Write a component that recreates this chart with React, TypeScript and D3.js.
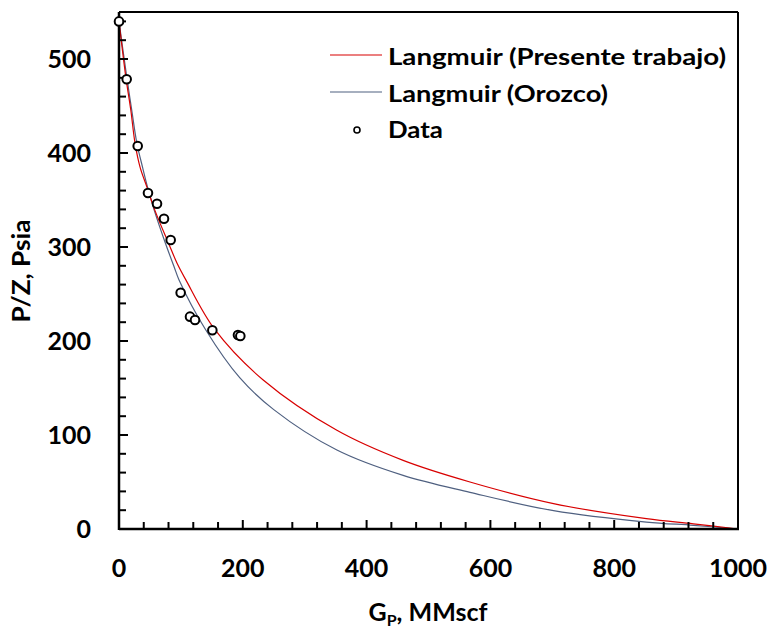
import React from "react";
import * as d3 from "d3";

const dataGp = [0, 12.4, 30.2, 46.8, 61.4, 72.7, 83.5, 99.6, 114.7, 122.8, 150.8, 192.2, 196];
const dataPz = [540, 478.4, 407.4, 357.4, 346, 330, 307.4, 251.4, 225.9, 222.3, 211.4, 206.4, 205.3];

const redGp = [0, 11, 19, 26, 34, 45, 58, 80, 95, 108, 155, 233, 352, 459, 567, 702, 852, 928, 1000];
const redPz = [540, 481, 446, 410, 385, 364, 339, 304, 281, 265, 212, 158.5, 105, 73, 50, 27, 11, 5.5, 0];

const blueGp = [0, 12.5, 20.5, 29, 38, 46, 57, 75, 89, 97, 140, 195, 250, 352, 459, 567, 702, 852, 928, 1000];
const bluePz = [540, 481, 446, 410, 385, 364, 339, 304, 279, 265, 212, 161, 127, 84, 57, 39, 19.5, 7.4, 3.9, 0];

const xMajor = [0, 200, 400, 600, 800, 1000];
const yMajor = [0, 100, 200, 300, 400, 500];

const legendLabels = ["Langmuir (Presente trabajo)", "Langmuir (Orozco)", "Data"];

const RED = "#d80000";
const BLUE = "#4f6080";
const FONT = "Lato, 'Open Sans', sans-serif";

export default function App() {
  const x = d3.scaleLinear().domain([0, 1000]).range([119, 738]);
  const y = d3.scaleLinear().domain([0, 550]).range([529, 12]);

  const xMinor = d3.range(0, 1001, 40).filter((v) => v % 200 !== 0);
  const yMinor = d3.range(0, 550, 20).filter((v) => v % 100 !== 0);

  const line = d3
    .line<[number, number]>()
    .x((d) => x(d[0]))
    .y((d) => y(d[1]))
    .curve(d3.curveCatmullRom.alpha(0.5));

  const redPath = line(redGp.map((g, i) => [g, redPz[i]]) as [number, number][]) || "";
  const bluePath = line(blueGp.map((g, i) => [g, bluePz[i]]) as [number, number][]) || "";

  const [x0, x1] = x.range();
  const [y0, y1] = y.range();

  return (
    <svg
      width={773}
      height={630}
      style={{ position: "absolute", left: 0, top: 0, background: "#fff" }}
      fontFamily={FONT}
    >
      <rect x={0} y={0} width={773} height={630} fill="#fff" />
      {/* curves */}
      <path d={bluePath} fill="none" stroke={BLUE} strokeWidth={1.2} />
      <path d={redPath} fill="none" stroke={RED} strokeWidth={1.2} />

      {/* frame */}
      <line x1={x0} x2={x1} y1={y1} y2={y1} stroke="#000" strokeWidth={2} />
      <line x1={x1} x2={x1} y1={y1} y2={y0} stroke="#000" strokeWidth={2} />
      <line x1={x0} x2={x1 + 1} y1={y0} y2={y0} stroke="#000" strokeWidth={2.5} />
      <line x1={x0} x2={x0} y1={y1} y2={y0 + 1} stroke="#000" strokeWidth={2.5} />

      {/* x ticks */}
      {xMajor.map((v) => (
        <g key={"xm" + v}>
          <line x1={x(v)} x2={x(v)} y1={y0} y2={y0 - 9} stroke="#000" strokeWidth={2} />
          <text
            x={x(v)}
            y={577}
            textAnchor="middle"
            fontSize={25}
            fontWeight="bold"
            fill="#000"
          >
            {v}
          </text>
        </g>
      ))}
      {xMinor.map((v) => (
        <line key={"xn" + v} x1={x(v)} x2={x(v)} y1={y0} y2={y0 - 7} stroke="#000" strokeWidth={2} />
      ))}

      {/* y ticks */}
      {yMajor.map((v) => (
        <g key={"ym" + v}>
          <line x1={x0} x2={x0 + 9} y1={y(v)} y2={y(v)} stroke="#000" strokeWidth={2} />
          <text
            x={91}
            y={y(v)}
            dy="0.36em"
            textAnchor="end"
            fontSize={25}
            fontWeight="bold"
            fill="#000"
          >
            {v}
          </text>
        </g>
      ))}
      {yMinor.map((v) => (
        <line key={"yn" + v} x1={x0} x2={x0 + 7} y1={y(v)} y2={y(v)} stroke="#000" strokeWidth={2} />
      ))}

      {/* data */}
      {dataGp.map((g, i) => (
        <circle
          key={"d" + i}
          cx={x(g)}
          cy={y(dataPz[i])}
          r={4.3}
          fill="#fff"
          stroke="#000"
          strokeWidth={2}
        />
      ))}

      {/* axis titles */}
      <text
        transform={`translate(${30},${271}) rotate(-90)`}
        textAnchor="middle"
        fontSize={24}
        fontWeight="bold"
        fill="#000"
        textLength={103}
        lengthAdjust="spacingAndGlyphs"
      >
        P/Z, Psia
      </text>
      <text x={428} y={621} textAnchor="middle" fontSize={25} fontWeight="bold" fill="#000">
        G
        <tspan fontSize={16} dy={5}>P</tspan>
        <tspan dy={-5}>, MMscf</tspan>
      </text>

      {/* legend */}
      <line x1={330} x2={382} y1={55} y2={55} stroke={RED} strokeWidth={1.2} />
      <line x1={330} x2={382} y1={92} y2={92} stroke={BLUE} strokeWidth={1.2} />
      <circle cx={357} cy={130} r={3} fill="#fff" stroke="#000" strokeWidth={1.6} />
      <text x={388} y={65} fontSize={23} fontWeight="bold" fill="#000" textLength={338} lengthAdjust="spacingAndGlyphs">
        {legendLabels[0]}
      </text>
      <text x={388} y={101.5} fontSize={23} fontWeight="bold" fill="#000" textLength={220} lengthAdjust="spacingAndGlyphs">
        {legendLabels[1]}
      </text>
      <text x={388} y={137.5} fontSize={23} fontWeight="bold" fill="#000" textLength={55} lengthAdjust="spacingAndGlyphs">
        {legendLabels[2]}
      </text>
    </svg>
  );
}
